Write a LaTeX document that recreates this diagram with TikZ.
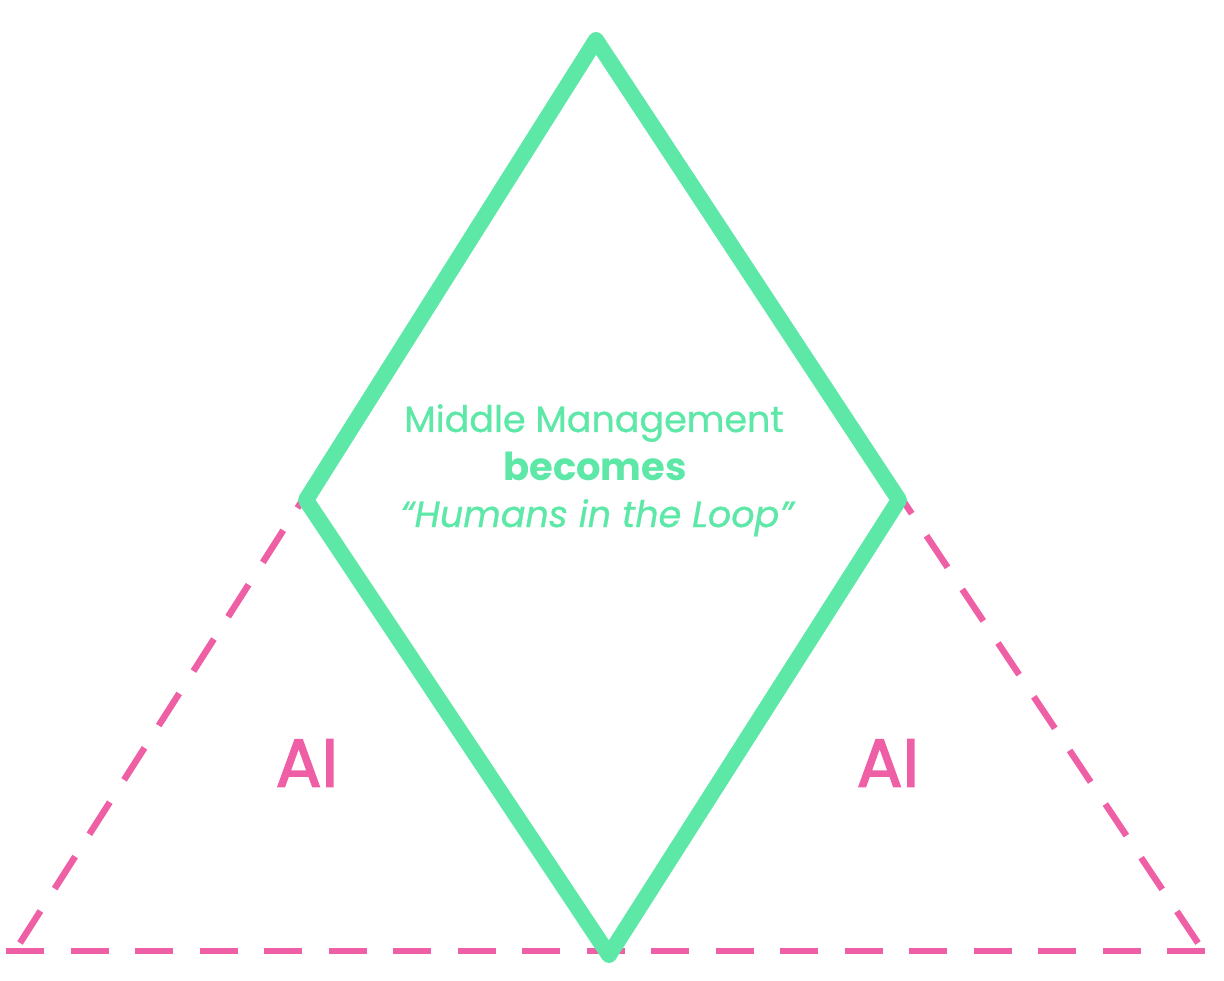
\documentclass[tikz,border=0pt]{standalone}
\usepackage{fontspec}
\setmainfont{Poppins}
\newfontfamily\popmed[FakeBold=2.2]{Poppins}
\newfontfamily\popreg[FakeBold=0.8,ItalicFeatures={FakeBold=0.8}]{Poppins}
\definecolor{mgreen}{RGB}{93,232,167}
\definecolor{mpink}{RGB}{238,95,165}
\begin{document}
\begin{tikzpicture}[x=1pt,y=-1pt,
  pinkdash/.style={draw=mpink,line width=6.5pt,dash pattern=on 38pt off 26.5pt},
  greenline/.style={draw=mgreen,line width=16pt,line join=round,line cap=round},
  maintext/.style={text=mgreen,font=\popreg\fontsize{36.5}{40}\selectfont,anchor=base,inner sep=0pt},
  aitext/.style={text=mpink,font=\popmed\fontsize{68}{72}\selectfont,inner sep=0pt}]
\useasboundingbox (0,0) rectangle (1224,981);
\coordinate (T) at (596,40);
\coordinate (L) at (306,500);
\coordinate (B) at (609,955);
\coordinate (R) at (899,500);
\coordinate (BL) at (6,951);
\coordinate (BR) at (1205,951);
\coordinate (BLs) at (20,943);
\coordinate (BRs) at (1198,943);
% pink triangle
\draw[pinkdash] (BL) -- (BR);
\draw[pinkdash] (BLs) -- (T);
\draw[pinkdash] (BRs) -- (T);
% green diamond
\draw[greenline] (T) -- (L) -- (B) -- (R) -- cycle;
% texts
\node[maintext] (t1) at (594,432) {Middle Management};
\node[maintext,font=\fontsize{38.5}{40}\selectfont\bfseries] (t2) at (595,481) {becomes};
\node[maintext,font=\popreg\fontsize{36.5}{40}\selectfont\itshape] (t3) at (597,527) {“Humans in the Loop”};
\node[aitext] (ai1) at (307,763) {AI};
\node[aitext] (ai2) at (888,763) {AI};
\end{tikzpicture}
\end{document}
